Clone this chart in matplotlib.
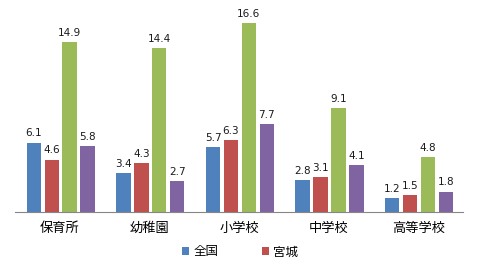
import numpy as np
import matplotlib
matplotlib.use("Agg")
import matplotlib.pyplot as plt

plt.rcParams['font.family'] = ['Noto Sans CJK JP', 'DejaVu Sans']

categories = ["保育所", "幼稚園", "小学校", "中学校", "高等学校"]
series_names = ["全国", "宮城", "系列3", "系列4"]
zenkoku = [6.1, 3.4, 5.7, 2.8, 1.2]
miyagi = [4.6, 4.3, 6.3, 3.1, 1.5]
series3 = [14.9, 14.4, 16.6, 9.1, 4.8]
series4 = [5.8, 2.7, 7.7, 4.1, 1.8]
colors = ["#4F81BD", "#C0504D", "#9BBB59", "#8064A2"]

fig = plt.figure(figsize=(4.78, 2.66), dpi=100)
# axes placed in pixels: x 15..463, baseline y=212
ax = fig.add_axes([15/478, (266-212)/266, 448/478, 205/266])

x = np.arange(len(categories))
step = 0.2
width = 0.16
bars = []
for i, vals in enumerate([zenkoku, miyagi, series3, series4]):
    b = ax.bar(x + (i - 1.5)*step + 0.01, vals, width, color=colors[i], label=series_names[i])
    bars.append(b)
    for xi, v in zip(x, vals):
        ax.annotate(f"{v:.1f}", (xi + (i - 1.5)*step + 0.01, v), xytext=(0, 3),
                    textcoords="offset points", ha="center", va="bottom",
                    fontsize=7.5, family="DejaVu Sans", color="#1a1a1a")

ax.set_xlim(-0.5, 4.5)
ax.set_ylim(0, 18)
ax.set_xticks(x)
ax.set_xticklabels(categories, fontsize=9.5)
ax.tick_params(axis="x", length=0, pad=7)
ax.set_yticks([])
for s in ["left", "right", "top"]:
    ax.spines[s].set_visible(False)
ax.spines["bottom"].set_color("#868686")

fig.legend(handles=bars[:2], labels=series_names[:2], loc="center",
           bbox_to_anchor=(240/478, 1 - 252/266), ncol=2, frameon=False,
           fontsize=9, handlelength=0.6, handleheight=0.6, handletextpad=0.3,
           columnspacing=3.5)

fig.savefig("out.png", dpi=100)
